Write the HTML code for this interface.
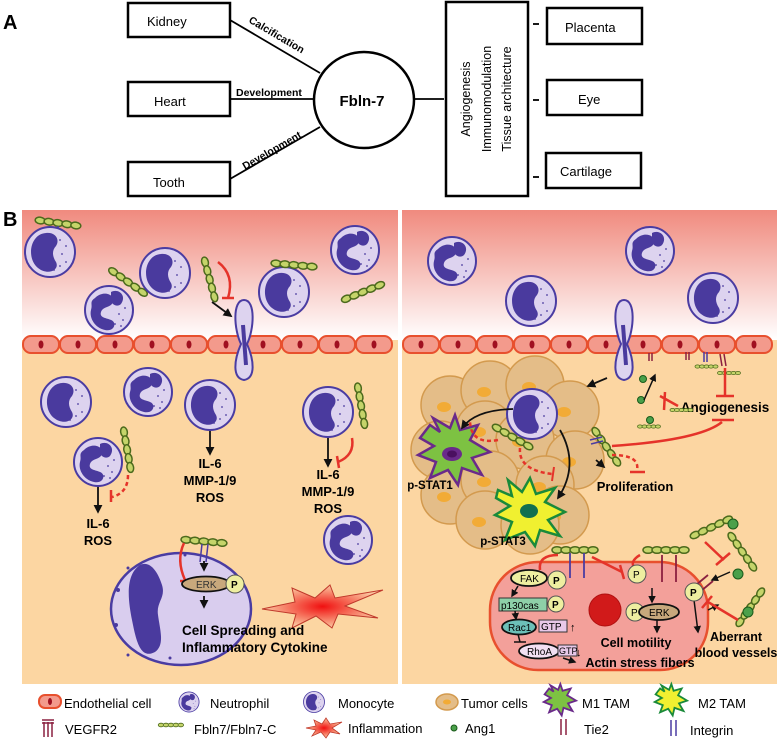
<!DOCTYPE html>
<html><head><meta charset="utf-8"><style>
html,body{margin:0;padding:0;background:#fff;}
svg{display:block;font-family:"Liberation Sans",Arial,sans-serif;}
.b{font-weight:bold;}
</style></head><body>
<svg width="778" height="740" viewBox="0 0 778 740" xmlns="http://www.w3.org/2000/svg">
<defs>
<linearGradient id="bg" x1="0" y1="0" x2="0" y2="1">
<stop offset="0" stop-color="#f08a7e"/><stop offset="1" stop-color="#ffffff"/></linearGradient>
<radialGradient id="star"><stop offset="0" stop-color="#f01010"/><stop offset="1" stop-color="#fbc8a0"/></radialGradient>
<marker id="ar" viewBox="0 0 10 10" refX="8" refY="5" markerWidth="5" markerHeight="5" orient="auto"><path d="M0,0 L10,5 L0,10 z" fill="#111"/></marker>
<g id="neu">
<circle r="24" fill="#ddd3ef" stroke="#4a3ca2" stroke-width="2"/>
<path d="M-14,-12 C-6,-20 6,-16 4,-8 C2,-2 -6,-4 -8,2 C-10,8 -2,8 2,10 C8,12 6,22 -4,20 C-14,18 -20,8 -18,0 C-16,-6 -20,-8 -14,-12Z M2,-18 C10,-22 18,-14 12,-6 C8,-2 2,-6 2,-10Z" fill="#4a3a9e"/>
<g fill="#4a3a9e"><circle cx="10" cy="4" r="0.9"/><circle cx="14" cy="10" r="0.9"/><circle cx="6" cy="14" r="0.9"/><circle cx="16" cy="-2" r="0.9"/><circle cx="12" cy="16" r="0.9"/><circle cx="-10" cy="14" r="0.9"/></g>
</g>
<g id="mono">
<circle r="25" fill="#ddd3ef" stroke="#4a3ca2" stroke-width="2"/>
<path d="M-4,-19 C-20,-18 -24,6 -12,16 C-2,24 10,18 6,10 C2,4 2,-2 6,-6 C10,-12 6,-20 -4,-19Z" fill="#4a3a9e"/>
<g fill="#4a3a9e"><circle cx="12" cy="2" r="0.9"/><circle cx="16" cy="10" r="0.9"/><circle cx="10" cy="14" r="0.9"/><circle cx="16" cy="-6" r="0.9"/><circle cx="10" cy="-12" r="0.9"/><circle cx="4" cy="18" r="0.9"/></g>
</g>
<g id="fb" fill="#c5d46a" stroke="#4c6a1c" stroke-width="1.5">
<ellipse cx="0" cy="0" rx="5" ry="3.3"/><ellipse cx="9" cy="0" rx="5" ry="3.3"/><ellipse cx="18" cy="0" rx="5" ry="3.3"/><ellipse cx="27" cy="0" rx="5" ry="3.3"/><ellipse cx="36" cy="0" rx="5" ry="3.3"/>
</g>
<g id="endo"><rect x="0" y="0" width="36" height="17" rx="8" fill="#f39a8c" stroke="#e8502e" stroke-width="2"/><ellipse cx="18" cy="8.5" rx="2.5" ry="4" fill="#a01020"/></g>
<g id="tum"><circle r="29" fill="#e4bd88" stroke="#d39a4e" stroke-width="1.5"/><ellipse cx="-6" cy="2" rx="7" ry="5" fill="#f2ab36"/></g>
</defs>

<!-- Panel A -->
<text x="3" y="29" class="b" font-size="20">A</text>
<g fill="#fff" stroke="#000" stroke-width="2.5">
<rect x="128" y="3" width="102" height="34"/>
<rect x="128" y="82" width="102" height="34"/>
<rect x="128" y="162" width="102" height="34"/>
<ellipse cx="364" cy="100" rx="50" ry="48"/>
<rect x="446" y="2" width="82" height="194"/>
<rect x="547" y="8" width="95" height="36"/>
<rect x="547" y="80" width="95" height="35"/>
<rect x="546" y="153" width="95" height="35"/>
</g>
<g stroke="#000" stroke-width="1.8">
<line x1="230" y1="20" x2="320" y2="73"/>
<line x1="230" y1="99" x2="314" y2="99"/>
<line x1="230" y1="179" x2="320" y2="127"/>
<line x1="415" y1="99" x2="444" y2="99"/>
<line x1="533" y1="24" x2="539" y2="24"/><line x1="533" y1="100" x2="539" y2="100"/><line x1="533" y1="177" x2="539" y2="177"/>
</g>
<g font-size="13">
<text x="147" y="26">Kidney</text><text x="154" y="106">Heart</text><text x="153" y="187">Tooth</text>
<text x="565" y="32">Placenta</text><text x="578" y="104">Eye</text><text x="560" y="176">Cartilage</text>
</g>
<g class="b" font-size="10.5">
<text transform="translate(248,22) rotate(30.5)">Calcification</text>
<text x="236" y="96">Development</text>
<text transform="translate(245,170) rotate(-30)">Development</text>
</g>
<text x="362" y="106" class="b" font-size="15" text-anchor="middle">Fbln-7</text>
<g font-size="12.5" text-anchor="middle">
<text transform="translate(470,99) rotate(-90)">Angiogenesis</text>
<text transform="translate(491,99) rotate(-90)">Immunomodulation</text>
<text transform="translate(511,99) rotate(-90)">Tissue architecture</text>
</g>

<!-- Panel B -->
<text x="3" y="226" class="b" font-size="20">B</text>
<rect x="22" y="210" width="376" height="130" fill="url(#bg)"/>
<rect x="402" y="210" width="375" height="130" fill="url(#bg)"/>
<rect x="22" y="340" width="376" height="344" fill="#fcd6a2"/>
<rect x="402" y="340" width="375" height="344" fill="#fcd6a2"/>
<g>
<use href="#endo" x="23" y="336"/><use href="#endo" x="60" y="336"/><use href="#endo" x="97" y="336"/><use href="#endo" x="134" y="336"/><use href="#endo" x="171" y="336"/><use href="#endo" x="208" y="336"/><use href="#endo" x="245" y="336"/><use href="#endo" x="282" y="336"/><use href="#endo" x="319" y="336"/><use href="#endo" x="356" y="336"/>
<use href="#endo" x="403" y="336"/><use href="#endo" x="440" y="336"/><use href="#endo" x="477" y="336"/><use href="#endo" x="514" y="336"/><use href="#endo" x="551" y="336"/><use href="#endo" x="588" y="336"/><use href="#endo" x="625" y="336"/><use href="#endo" x="662" y="336"/><use href="#endo" x="699" y="336"/><use href="#endo" x="736" y="336"/>
</g>
<!-- transmigrating cells -->
<path d="M244,300 C256,300 254,330 247,344 C254,360 256,378 244,380 C232,378 234,360 241,344 C234,330 232,300 244,300Z" fill="#ddd3ef" stroke="#4a3ca2" stroke-width="2"/>
<path d="M243,325 L246,365" stroke="#4a3a9e" stroke-width="4"/>
<path d="M624,300 C636,300 634,330 627,344 C634,360 636,378 624,380 C612,378 614,360 621,344 C614,330 612,300 624,300Z" fill="#ddd3ef" stroke="#4a3ca2" stroke-width="2"/>
<path d="M623,325 L626,365" stroke="#4a3a9e" stroke-width="4"/>

<!-- left cells -->
<use href="#fb" x="40" y="223" transform="rotate(8,58,223)"/>
<line x1="58" y1="226" x2="58" y2="232" stroke="#4a3ca2" stroke-width="1.5"/>
<use href="#mono" x="50" y="252"/>
<use href="#neu" x="109" y="310"/>
<use href="#fb" x="110" y="282" transform="rotate(35,128,282)"/>
<use href="#mono" x="165" y="273"/>
<use href="#fb" x="205" y="262" transform="rotate(75,205,262)"/>
<path d="M218,262 Q235,275 228,298" fill="none" stroke="#e5332a" stroke-width="2.5"/><line x1="222" y1="298" x2="234" y2="298" stroke="#e5332a" stroke-width="2.5"/>
<line x1="212" y1="302" x2="231" y2="316" stroke="#111" stroke-width="1.8" marker-end="url(#ar)"/>
<use href="#mono" x="284" y="292"/>
<use href="#fb" x="276" y="265" transform="rotate(5,294,265)"/>
<use href="#neu" x="355" y="250"/>
<use href="#fb" x="345" y="292" transform="rotate(-22,363,292)"/>
<use href="#mono" x="66" y="402"/>
<use href="#neu" x="148" y="392"/>
<use href="#mono" x="210" y="405"/>
<use href="#mono" x="328" y="412"/>
<use href="#fb" x="358" y="388" transform="rotate(80,358,388)"/>
<path d="M352,438 Q355,455 338,462" fill="none" stroke="#e5332a" stroke-width="2.5"/><line x1="337" y1="456" x2="339" y2="468" stroke="#e5332a" stroke-width="2.5"/>
<use href="#neu" x="98" y="462"/>
<use href="#fb" x="124" y="432" transform="rotate(80,124,432)"/>
<path d="M128,475 Q128,493 112,497" fill="none" stroke="#e5332a" stroke-width="2.5" stroke-dasharray="4,3"/><line x1="111" y1="490" x2="111" y2="502" stroke="#e5332a" stroke-width="2.5"/>
<use href="#neu" x="348" y="540"/>
<g stroke="#111" stroke-width="1.8" marker-end="url(#ar)">
<line x1="98" y1="487" x2="98" y2="512"/><line x1="210" y1="431" x2="210" y2="454"/><line x1="328" y1="438" x2="328" y2="466"/>
</g>
<g class="b" font-size="13" text-anchor="middle">
<text x="210" y="468">IL-6</text><text x="210" y="485">MMP-1/9</text><text x="210" y="502">ROS</text>
<text x="328" y="479">IL-6</text><text x="328" y="496">MMP-1/9</text><text x="328" y="513">ROS</text>
<text x="98" y="528">IL-6</text><text x="98" y="545">ROS</text>
</g>
<!-- big cell -->
<ellipse cx="181" cy="609" rx="70" ry="56" fill="#d9cdee" stroke="#4a3ca2" stroke-width="2.5"/>
<path d="M140,565 C125,575 128,600 132,620 C136,640 140,660 155,652 C165,645 160,630 158,615 C156,602 166,598 162,585 C158,572 150,560 140,565Z" fill="#4a3a9e"/>
<g fill="#4a3a9e"><circle cx="118" cy="590" r="2"/><circle cx="116" cy="625" r="2"/><circle cx="128" cy="655" r="1.5"/><circle cx="170" cy="658" r="1.5"/><circle cx="128" cy="568" r="1.5"/><circle cx="185" cy="555" r="1.5"/></g>
<use href="#fb" x="186" y="541" transform="rotate(5,200,541)"/>
<g stroke="#4a3ca2" stroke-width="1.5"><line x1="202" y1="544" x2="200" y2="562"/><line x1="208" y1="544" x2="206" y2="562"/></g>
<path d="M184,543 Q176,560 185,580" fill="none" stroke="#e5332a" stroke-width="2.5"/><line x1="180" y1="581" x2="191" y2="581" stroke="#e5332a" stroke-width="2.5"/>
<line x1="204" y1="561" x2="204" y2="570" stroke="#111" stroke-width="1.8" marker-end="url(#ar)"/>
<ellipse cx="206" cy="584" rx="24" ry="7.5" fill="#c8a87c" stroke="#111" stroke-width="1.8"/>
<text x="196" y="588" font-size="10" fill="#333">ERK</text>
<circle cx="235" cy="584" r="9" fill="#eeeea0" stroke="#555" stroke-width="1"/><text x="231" y="588" class="b" font-size="10">P</text>
<line x1="204" y1="596" x2="204" y2="607" stroke="#111" stroke-width="1.8" marker-end="url(#ar)"/>
<polygon points="262,609 295,602 292,588 315,598 330,585 335,598 383,590 345,606 378,618 338,614 332,628 316,616 292,628 296,614" fill="url(#star)" stroke="#c0392b" stroke-width="1"/>
<g class="b" font-size="13.5"><text x="182" y="635">Cell Spreading and</text><text x="182" y="652">Inflammatory Cytokine</text></g>

<!-- right panel -->
<use href="#neu" x="452" y="261"/>
<use href="#mono" x="531" y="301"/>
<use href="#neu" x="650" y="251"/>
<use href="#mono" x="713" y="298"/>
<!-- tumor cluster -->
<g>
<use href="#tum" x="450" y="405"/><use href="#tum" x="490" y="390"/><use href="#tum" x="535" y="385"/><use href="#tum" x="570" y="410"/>
<use href="#tum" x="440" y="450"/><use href="#tum" x="485" y="430"/><use href="#tum" x="525" y="440"/><use href="#tum" x="575" y="460"/>
<use href="#tum" x="450" y="495"/><use href="#tum" x="490" y="480"/><use href="#tum" x="545" y="485"/><use href="#tum" x="560" y="515"/>
<use href="#tum" x="485" y="520"/><use href="#tum" x="530" y="525"/>
</g>
<use href="#mono" x="532" y="414"/>
<path d="M430,425 L440,432 L433,418 L450,428 L455,415 L460,430 L478,425 L470,440 L490,452 L472,458 L482,475 L462,468 L458,485 L448,470 L430,478 L436,462 L418,455 L434,446 L420,438Z" fill="#7dc242" stroke="#6a2a8a" stroke-width="2.5"/>
<ellipse cx="452" cy="454" rx="10" ry="7" fill="#6a2a8a"/><ellipse cx="452" cy="454" rx="5" ry="3.5" fill="#4a1060"/>
<path d="M498,490 L512,496 L508,480 L522,492 L530,478 L536,494 L555,488 L545,502 L565,512 L548,520 L560,536 L540,530 L535,546 L525,532 L505,540 L512,522 L495,515 L510,506 L496,498Z" fill="#f0f030" stroke="#1a8a3a" stroke-width="2.5"/>
<ellipse cx="529" cy="511" rx="9" ry="7" fill="#127050"/>
<use href="#fb" x="497" y="428" transform="rotate(30,497,428)"/>
<path d="M513,409 Q475,410 462,428" fill="none" stroke="#111" stroke-width="1.8" marker-end="url(#ar)"/>
<path d="M560,430 Q580,465 558,498" fill="none" stroke="#111" stroke-width="1.8" marker-end="url(#ar)"/>
<path d="M498,440 Q470,445 470,420" fill="none" stroke="#e5332a" stroke-width="2.5" stroke-dasharray="4,3"/>
<path d="M520,448 Q518,470 552,474" fill="none" stroke="#e5332a" stroke-width="2.5" stroke-dasharray="4,3"/><line x1="554" y1="467" x2="552" y2="481" stroke="#e5332a" stroke-width="2"/>
<use href="#fb" x="596" y="432" transform="rotate(55,596,432)"/>
<g stroke="#4a3ca2" stroke-width="1.5"><line x1="590" y1="440" x2="602" y2="437"/><line x1="591" y1="444" x2="603" y2="441"/></g>
<path d="M612,446 Q700,440 722,422" fill="none" stroke="#e5332a" stroke-width="2.5"/><line x1="712" y1="420" x2="734" y2="420" stroke="#e5332a" stroke-width="2.5"/>
<path d="M612,455 Q640,455 637,470" fill="none" stroke="#e5332a" stroke-width="2.5" stroke-dasharray="4,3"/><line x1="630" y1="472" x2="645" y2="472" stroke="#e5332a" stroke-width="2.5"/>
<line x1="596" y1="460" x2="604" y2="467" stroke="#111" stroke-width="1.8" marker-end="url(#ar)"/>
<line x1="607" y1="378" x2="588" y2="386" stroke="#111" stroke-width="1.8" marker-end="url(#ar)"/>
<text x="430" y="489" class="b" font-size="11.5" text-anchor="middle">p-STAT1</text>
<text x="503" y="545" class="b" font-size="11.5" text-anchor="middle">p-STAT3</text>
<text x="635" y="491" class="b" font-size="13" text-anchor="middle">Proliferation</text>
<text x="725" y="412" class="b" font-size="13.5" text-anchor="middle">Angiogenesis</text>
<!-- membrane receptors / ang1 -->
<g stroke="#8b2040" stroke-width="1.5"><line x1="649" y1="353" x2="649" y2="361"/><line x1="652" y1="353" x2="652" y2="361"/><line x1="686" y1="352" x2="686" y2="360"/><line x1="689" y1="352" x2="689" y2="360"/><line x1="720" y1="354" x2="722" y2="366"/><line x1="724" y1="354" x2="726" y2="366"/></g>
<g stroke="#4a3ca2" stroke-width="1.5"><line x1="704" y1="352" x2="704" y2="362"/><line x1="707" y1="352" x2="707" y2="362"/></g>
<g transform="scale(0.5)"><use href="#fb" x="1395" y="733"/><use href="#fb" x="1440" y="746"/><use href="#fb" x="1345" y="820"/><use href="#fb" x="1280" y="853"/></g>
<g fill="#4aa04a" stroke="#1a5a1a" stroke-width="1"><circle cx="643" cy="379" r="3.5"/><circle cx="641" cy="400" r="3.5"/><circle cx="650" cy="420" r="3.5"/></g>
<line x1="644" y1="400" x2="655" y2="375" stroke="#111" stroke-width="1.5" marker-end="url(#ar)"/>
<path d="M665,392 L664,410 M660,396 L678,406" stroke="#e5332a" stroke-width="2.5" fill="none"/>
<line x1="725" y1="368" x2="725" y2="396" stroke="#e5332a" stroke-width="2.5"/><line x1="716" y1="396" x2="734" y2="396" stroke="#e5332a" stroke-width="2.5"/>
<!-- endothelial big cell -->
<rect x="490" y="562" width="218" height="108" rx="48" fill="#f3a09a" stroke="#e8502e" stroke-width="2.5"/>
<circle cx="605" cy="610" r="16" fill="#d11a1a" stroke="#b01010"/>
<use href="#fb" x="557" y="550"/><use href="#fb" x="648" y="550"/>
<g stroke="#4a3ca2" stroke-width="1.8"><line x1="570" y1="553" x2="570" y2="578"/><line x1="584" y1="553" x2="584" y2="578"/></g>
<g stroke="#8b2040" stroke-width="1.8"><line x1="662" y1="555" x2="662" y2="582"/><line x1="676" y1="555" x2="676" y2="582"/><line x1="690" y1="590" x2="708" y2="575"/><line x1="695" y1="596" x2="713" y2="581"/></g>
<path d="M558,555 Q538,555 540,570" fill="none" stroke="#e5332a" stroke-width="2.5"/>
<path d="M592,557 L622,572" stroke="#e5332a" stroke-width="2.5"/><line x1="620" y1="565" x2="624" y2="579" stroke="#e5332a" stroke-width="2.5"/>
<path d="M640,555 Q628,562 636,570" fill="none" stroke="#e5332a" stroke-width="2.5"/>
<ellipse cx="529" cy="578" rx="18" ry="8" fill="#eeeea0" stroke="#111" stroke-width="1.8"/><text x="520" y="582" font-size="10">FAK</text>
<circle cx="557" cy="580" r="9" fill="#eeeea0" stroke="#555"/><text x="553" y="584" class="b" font-size="10">P</text>
<rect x="499" y="598" width="48" height="13" fill="#8ed0a8" stroke="#333"/><text x="501" y="609" font-size="10">p130cas</text>
<circle cx="556" cy="604" r="8" fill="#eeeea0" stroke="#555"/><text x="552" y="608" class="b" font-size="10">P</text>
<ellipse cx="519" cy="627" rx="17" ry="7.5" fill="#6cc0b8" stroke="#111" stroke-width="1.8"/><text x="508" y="631" font-size="10">Rac1</text>
<rect x="539" y="620" width="28" height="12" fill="#e8c8e8" stroke="#333"/><text x="541" y="630" font-size="10">GTP</text>
<text x="570" y="631" font-size="11">↑</text>
<ellipse cx="539" cy="651" rx="20" ry="7.5" fill="#f2e0f2" stroke="#111" stroke-width="1.8"/><text x="527" y="655" font-size="10">RhoA</text>
<rect x="558" y="645" width="19" height="11" fill="#e8c8e8" stroke="#333"/><text x="559" y="654" font-size="9">GTP</text>
<text x="576" y="656" font-size="11">↓</text>
<g stroke="#111" stroke-width="1.5" fill="none" marker-end="url(#ar)"><path d="M518,586 L512,596"/><path d="M515,611 L516,619"/><path d="M563,658 L575,662"/><line x1="652" y1="588" x2="652" y2="602"/><line x1="657" y1="620" x2="657" y2="632"/><path d="M694,600 L698,632"/><path d="M708,610 L718,605"/></g>
<line x1="518" y1="634" x2="520" y2="642" stroke="#111" stroke-width="1.5"/><line x1="514" y1="642" x2="526" y2="642" stroke="#111" stroke-width="1.5"/>
<circle cx="637" cy="574" r="9" fill="#eeeea0" stroke="#555"/><text x="633" y="578" font-size="10">P</text>
<circle cx="635" cy="612" r="9" fill="#eeeea0" stroke="#555"/><text x="631" y="616" font-size="10">P</text>
<ellipse cx="659" cy="612" rx="20" ry="8" fill="#c8a87c" stroke="#111" stroke-width="1.8"/><text x="649" y="616" font-size="10">ERK</text>
<circle cx="694" cy="592" r="9" fill="#eeeea0" stroke="#555"/><text x="690" y="596" class="b" font-size="10">P</text>
<!-- right side fbln/ang1 -->
<use href="#fb" x="695" y="535" transform="rotate(-25,695,535)"/><circle cx="733" cy="524" r="5" fill="#4aa04a" stroke="#1a5a1a"/>
<use href="#fb" x="732" y="537" transform="rotate(55,732,537)"/><circle cx="738" cy="574" r="5" fill="#4aa04a" stroke="#1a5a1a"/>
<use href="#fb" x="740" y="622" transform="rotate(-55,740,622)"/><circle cx="748" cy="612" r="5" fill="#4aa04a" stroke="#1a5a1a"/>
<line x1="730" y1="572" x2="712" y2="580" stroke="#111" stroke-width="1.5" marker-end="url(#ar)"/>
<path d="M705,542 L724,560" stroke="#e5332a" stroke-width="2.5"/><line x1="716" y1="565" x2="730" y2="553" stroke="#e5332a" stroke-width="2.5"/>
<path d="M738,620 L708,602" stroke="#e5332a" stroke-width="2.5"/><line x1="702" y1="608" x2="712" y2="596" stroke="#e5332a" stroke-width="2.5"/>
<g class="b" font-size="12.5" text-anchor="middle">
<text x="636" y="647">Cell motility</text>
<text x="640" y="667">Actin stress fibers</text>
<text x="736" y="641">Aberrant</text><text x="736" y="657">blood vessels</text>
</g>

<!-- Legend -->
<g font-size="13">
<rect x="39" y="695" width="22" height="13" rx="6" fill="#f39a8c" stroke="#e8502e" stroke-width="2"/><ellipse cx="50" cy="701.5" rx="2" ry="3.5" fill="#a01020"/>
<text x="64" y="708">Endothelial cell</text>
<g transform="translate(189,702) scale(0.42)"><use href="#neu"/></g><text x="210" y="708">Neutrophil</text>
<g transform="translate(314,702) scale(0.42)"><use href="#mono"/></g><text x="338" y="708">Monocyte</text>
<ellipse cx="447" cy="702" rx="11" ry="8" fill="#e4bd88" stroke="#d39a4e" stroke-width="1.5"/><ellipse cx="447" cy="702" rx="4" ry="2.5" fill="#f2ab36"/><text x="461" y="708">Tumor cells</text>
<g transform="translate(559,702) scale(0.45) translate(-452,-455)"><path d="M430,425 L440,432 L433,418 L450,428 L455,415 L460,430 L478,425 L470,440 L490,452 L472,458 L482,475 L462,468 L458,485 L448,470 L430,478 L436,462 L418,455 L434,446 L420,438Z" fill="#7dc242" stroke="#6a2a8a" stroke-width="4"/></g>
<text x="582" y="708">M1 TAM</text>
<g transform="translate(670,702) scale(0.45) translate(-452,-455)"><path d="M430,425 L440,432 L433,418 L450,428 L455,415 L460,430 L478,425 L470,440 L490,452 L472,458 L482,475 L462,468 L458,485 L448,470 L430,478 L436,462 L418,455 L434,446 L420,438Z" fill="#f0f030" stroke="#1a8a3a" stroke-width="4"/></g>
<text x="698" y="708">M2 TAM</text>
<g stroke="#8b2040" stroke-width="1.5"><line x1="44" y1="722" x2="44" y2="737"/><line x1="48" y1="722" x2="48" y2="737"/><line x1="52" y1="722" x2="52" y2="737"/><path d="M42,720 L54,720 M42,723 L54,723"/></g>
<text x="65" y="734">VEGFR2</text>
<g transform="translate(161,725) scale(0.55)"><use href="#fb"/></g><text x="194" y="734">Fbln7/Fbln7-C</text>
<polygon points="306,728 316,726 314,720 322,724 326,718 330,724 342,722 332,728 340,734 330,732 326,738 321,732 312,736 316,730" fill="url(#star)" stroke="#c0392b" stroke-width="0.8"/>
<text x="348" y="733">Inflammation</text>
<circle cx="454" cy="728" r="3" fill="#4aa04a" stroke="#1a5a1a"/><text x="465" y="733">Ang1</text>
<g stroke="#8b2040" stroke-width="1.5"><line x1="561" y1="719" x2="561" y2="735"/><line x1="566" y1="719" x2="566" y2="735"/></g><text x="584" y="734">Tie2</text>
<g stroke="#4a3ca2" stroke-width="1.5"><line x1="671" y1="720" x2="671" y2="736"/><line x1="676" y1="720" x2="676" y2="736"/></g><text x="690" y="735">Integrin</text>
</g>
</svg>
</body></html>
